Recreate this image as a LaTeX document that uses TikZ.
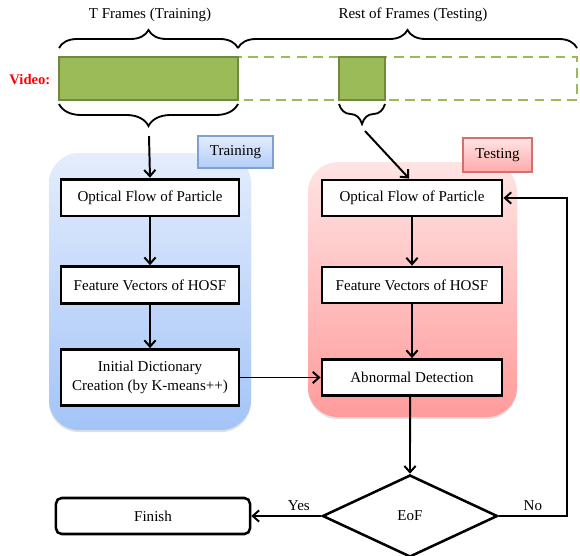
\documentclass[tikz,border=0pt]{standalone}
\usepackage{fontspec}
\setmainfont{Liberation Serif}
\usetikzlibrary{shapes.geometric,decorations.pathreplacing,arrows.meta,shadows}
\definecolor{vgreen}{RGB}{155,187,89}
\definecolor{vgreendark}{RGB}{113,137,63}
\definecolor{trtop}{RGB}{228,237,252}
\definecolor{trbot}{RGB}{163,196,248}
\definecolor{tetop}{RGB}{255,228,228}
\definecolor{tebot}{RGB}{255,155,155}
\definecolor{trline}{RGB}{127,160,210}
\definecolor{teline}{RGB}{215,110,110}

\begin{document}
\begin{tikzpicture}[x=0.025cm,y=-0.025cm,line width=1.4pt,
	font=\fontsize{10.7}{13}\selectfont,
	arr/.style={-{Straight Barb[length=4.5pt,width=8pt]}},
	box/.style={draw,fill=white,line width=2pt,minimum width=4.45cm,minimum height=0.92cm,inner sep=2pt,align=center},
	brace/.style={decorate,decoration={brace,amplitude=#1},line width=1.3pt},
	panel/.style={rounded corners=0.75cm,drop shadow={opacity=0.25,shadow xshift=0pt,shadow yshift=-1.5pt}},
	tag/.style={draw,minimum height=0.8cm,line width=0.8pt,drop shadow={opacity=0.3,shadow xshift=1pt,shadow yshift=-1pt}}]
	\useasboundingbox (0,0) rectangle (580,555);
	\shade[panel,top color=trtop,bottom color=trbot] (49,153) rectangle (251,430);
	\shade[panel,top color=tetop,bottom color=tebot] (308,162) rectangle (517,417);
	\node[tag,draw=trline,top color=trtop,bottom color=trbot!85!white,minimum width=1.875cm] (trtag) at (235.5,152) {Training};
	\node[tag,draw=teline,top color=tetop,bottom color=tebot!85!white,minimum width=1.725cm,minimum height=0.85cm] (tetag) at (497.5,155) {Testing};
	\node (ttrain) at (150,15) {T Frames (Training)};
	\node (ttest) at (413,15) {Rest of Frames (Testing)};
	\node[anchor=east,text=red,font=\fontsize{10.4}{12}\selectfont\bfseries] (vid) at (56,80) {Video:};
	\draw[vgreen,line width=1.8pt,dash pattern=on 7pt off 4.5pt] (238,57) rectangle (577,100);
	\draw[fill=vgreen,draw=vgreendark,line width=1.8pt] (59,57) rectangle (238,100);
	\draw[fill=vgreen,draw=vgreendark,line width=1.8pt] (339,57) rectangle (385,100);
	\draw[brace=0.45cm] (59,48) -- (238,48);
	\draw[brace=0.45cm] (238,48) -- (577,48);
	\draw[brace=0.55cm] (238,104) -- (59,104);
	\draw[brace=0.5cm] (385,104) -- (339,104);
	\node[box] (opt1) at (150,197.5) {Optical Flow of Particle};
	\node[box] (feat1) at (150,285) {Feature Vectors of HOSF};
	\node[box,minimum height=1.4cm] (dict) at (150,377.5) {Initial Dictionary\\Creation (by K-means++)};
	\node[box,minimum width=4.5cm,minimum height=0.9cm] (opt2) at (412,198) {Optical Flow of Particle};
	\node[box,minimum width=4.5cm,minimum height=0.9cm] (feat2) at (412,285) {Feature Vectors of HOSF};
	\node[box,minimum width=4.5cm,minimum height=0.9cm] (abn) at (412,377.5) {Abnormal Detection};
	\node[draw,diamond,line width=1.8pt,inner sep=0pt,minimum width=4.375cm,minimum height=2.05cm] (eof) at (410,516) {EoF};
	\node[box,rounded corners=4pt,line width=1.8pt,minimum width=4.85cm,minimum height=0.9cm] (finish) at (153,516) {Finish};
	\coordinate (cut) at (149,136);
	\coordinate (clip) at (365,131);
	\coordinate (fb) at (567,516);
	\draw[arr] (cut) -- (opt1.north);
	\draw[arr] (clip) -- ([xshift=-2pt]opt2.north);
	\draw[arr] (opt1) -- (feat1);
	\draw[arr] (feat1) -- (dict);
	\draw[arr] (opt2) -- (feat2);
	\draw[arr] (feat2) -- (abn);
	\draw[arr] (dict.east) -- (abn.west);
	\draw[arr] ([xshift=-1.4pt]abn.south) -- (eof.north);
	\draw[arr] (eof.west) -- node[pos=0.32,above] {Yes} (finish.east);
	\draw[arr] (eof.east) -- node[above] {No} (fb) |- (opt2.east);
\end{tikzpicture}
\end{document}
